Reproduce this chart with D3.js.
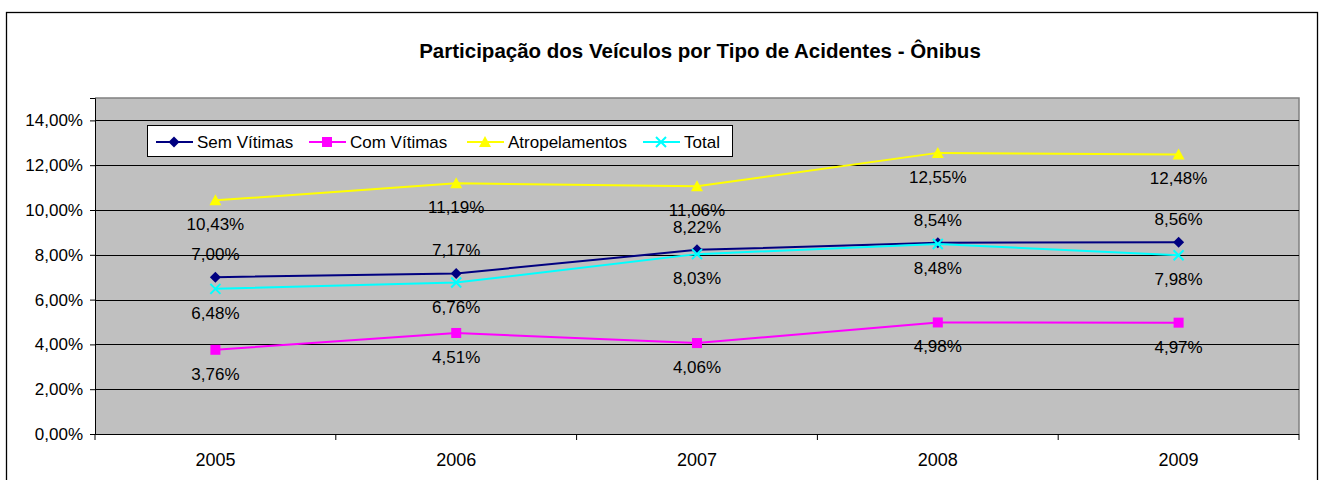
<!DOCTYPE html>
<html><head><meta charset="utf-8">
<script src="https://cdn.jsdelivr.net/npm/d3@7"></script>
<style>body{margin:0;background:#fff}svg{display:block}text{font-family:"Liberation Sans",Arial,sans-serif}</style>
</head><body><div id="chart"></div>
<script>
const categories = ["2005","2006","2007","2008","2009"];
const semVitimas = [7.00, 7.17, 8.22, 8.54, 8.56];
const comVitimas = [3.76, 4.51, 4.06, 4.98, 4.97];
const atropelamentos = [10.43, 11.19, 11.06, 12.55, 12.48];
const total = [6.48, 6.76, 8.03, 8.48, 7.98];
const yTicks = [0,2,4,6,8,10,12,14];
const seriesNames = ["Sem Vítimas","Com Vítimas","Atropelamentos","Total"];
const title = "Participação dos Veículos por Tipo de Acidentes - Ônibus";

const W=1320,H=480;
const svg=d3.select("#chart").append("svg").attr("width",W).attr("height",H);
svg.append("rect").attr("x",6.5).attr("y",12.5).attr("width",1311).attr("height",480).attr("fill","#fff").attr("stroke","#000").attr("stroke-width",1.3);
svg.append("text").attr("x",700).attr("y",58).attr("text-anchor","middle").attr("font-size",20.5).attr("font-weight","bold").text(title);

const L=95,R=1299,T=98,B=434;
const x=d3.scaleBand().domain(categories).range([L,R]);
const y=d3.scaleLinear().domain([0,15]).range([B,T]);
svg.append("rect").attr("x",L).attr("y",T).attr("width",R-L).attr("height",B-T).attr("fill","#C0C0C0");
svg.append("path").attr("d",`M${L},${T}H${R}V${B}`).attr("fill","none").attr("stroke","#808080").attr("stroke-width",1.5);
svg.append("g").selectAll("line").data(yTicks.filter(d=>d>0)).join("line")
 .attr("x1",L).attr("x2",R).attr("y1",d=>Math.round(y(d))+0.5).attr("y2",d=>Math.round(y(d))+0.5).attr("stroke","#000").attr("stroke-width",1);

const yAxis=svg.append("g").attr("transform",`translate(${L},0)`)
 .call(d3.axisLeft(y).tickValues(yTicks).tickSize(5).tickFormat(d=>d.toFixed(2).replace(".",",")+"%"));
yAxis.select(".domain").attr("stroke","#000");
yAxis.selectAll("text").attr("font-size",17).attr("fill","#000").attr("dx",-4).attr("font-family","'Liberation Sans',Arial,sans-serif");
yAxis.selectAll("line").attr("stroke","#000");
svg.append("line").attr("x1",L).attr("x2",R).attr("y1",B+0.5).attr("y2",B+0.5).attr("stroke","#000");
const xb=svg.append("g");
xb.selectAll("line").data(categories.concat(["end"])).join("line")
 .attr("x1",(d,i)=>i<5?x(d):R).attr("x2",(d,i)=>i<5?x(d):R).attr("y1",B).attr("y2",B+6).attr("stroke","#000");
xb.selectAll("text").data(categories).join("text").attr("x",d=>x(d)+x.bandwidth()/2).attr("y",466)
 .attr("text-anchor","middle").attr("font-size",18).text(d=>d);

const cx=d=>x(d)+x.bandwidth()/2;
const series=[
 {name:seriesNames[0],vals:semVitimas,color:"#000080",marker:"diamond",off:-17},
 {name:seriesNames[1],vals:comVitimas,color:"#FF00FF",marker:"square",off:30},
 {name:seriesNames[2],vals:atropelamentos,color:"#FFFF00",marker:"triangle",off:30},
 {name:seriesNames[3],vals:total,color:"#00FFFF",marker:"x",off:30}
];
function drawMarker(g,type,px,py,color){
 if(type==="diamond") g.append("path").attr("d",`M${px},${py-5.5}L${px+5.5},${py}L${px},${py+5.5}L${px-5.5},${py}Z`).attr("fill",color);
 else if(type==="square") g.append("rect").attr("x",px-5).attr("y",py-5).attr("width",10).attr("height",10).attr("fill",color);
 else if(type==="triangle") g.append("path").attr("d",`M${px},${py-6}L${px+6},${py+5}L${px-6},${py+5}Z`).attr("fill",color);
 else g.append("path").attr("d",`M${px-5},${py-5}L${px+5},${py+5}M${px-5},${py+5}L${px+5},${py-5}`).attr("stroke",color).attr("stroke-width",2);
}
const line=d3.line().x((d,i)=>cx(categories[i])).y(d=>y(d));
series.forEach(s=>{
 const g=svg.append("g");
 g.append("path").attr("d",line(s.vals)).attr("fill","none").attr("stroke",s.color).attr("stroke-width",2);
 s.vals.forEach((v,i)=>drawMarker(g,s.marker,cx(categories[i]),y(v),s.color));
});
series.forEach(s=>{
 svg.append("g").selectAll("text").data(s.vals).join("text")
  .attr("x",(d,i)=>cx(categories[i])).attr("y",d=>y(d)+s.off).attr("text-anchor","middle").attr("font-size",17).attr("fill","#000")
  .text(d=>d.toFixed(2).replace(".",",")+"%");
});

// legend
const lg=svg.append("g");
lg.append("rect").attr("x",147.5).attr("y",125.5).attr("width",585).attr("height",31).attr("fill","#fff").attr("stroke","#000");
const lx=[156,309,467,643];
series.forEach((s,i)=>{
 lg.append("line").attr("x1",lx[i]).attr("x2",lx[i]+37).attr("y1",142).attr("y2",142).attr("stroke",s.color).attr("stroke-width",2);
 drawMarker(lg,s.marker,lx[i]+18,142,s.color);
 lg.append("text").attr("x",lx[i]+41).attr("y",148).attr("font-size",17).text(s.name);
});
</script></body></html>
